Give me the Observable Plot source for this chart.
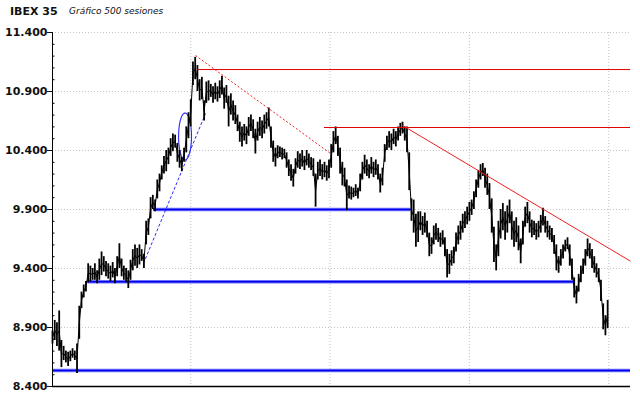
<!DOCTYPE html>
<html>
<head>
<meta charset="utf-8">
<script src="https://cdn.jsdelivr.net/npm/d3@7"></script>
<script src="https://cdn.jsdelivr.net/npm/@observablehq/plot@0.6"></script>
<style>
  html, body { margin: 0; padding: 0; background: #fff; }
  #title { position: relative; height: 20px; width: 640px; }
  #title .main { position: absolute; left: 10px; top: 6px; font: bold 11px/11px "DejaVu Sans", sans-serif; color: #111; }
  #title .sub { position: absolute; left: 69px; top: 7px; font: italic 9px/9px "DejaVu Sans", sans-serif; color: #111; }
</style>
</head>
<body>
<div id="title"><span class="main">IBEX 35</span><span class="sub">Gráfico 500 sesiones</span></div>
<div id="chart"></div>
<script>
// ---- data (session lows / highs, every 2nd session from 1 to 499) ----
const lows = [8760,8790,8740,8700,8560,8620,8600,8570,8610,8640,8620,8510,8800,9060,9150,9200,9280,9290,9300,9300,
  9270,9300,9340,9370,9330,9310,9290,9320,9270,9330,9400,9330,9300,9280,9230,9300,9380,9420,9400,9430,
  9460,9400,9600,9680,9820,9900,9880,9990,10050,10150,10200,10220,10280,10350,10390,10420,10300,10250,10220,10300,
  10380,10500,10600,10950,11000,10900,10820,10830,10650,10800,10820,10850,10800,10830,10810,10840,10870,10750,10800,10600,
  10700,10650,10620,10560,10470,10430,10480,10450,10520,10560,10500,10370,10480,10520,10500,10540,10580,10600,10420,10300,
  10260,10330,10340,10320,10330,10250,10180,10140,10090,10200,10250,10240,10260,10230,10270,10250,10230,10180,9920,10150,
  10180,10150,10170,10140,10160,10250,10380,10450,10350,10200,10100,10090,9890,9990,9980,10000,10010,9990,10050,10150,
  10200,10180,10160,10200,10170,10190,10150,10040,10100,10300,10400,10420,10400,10450,10430,10480,10520,10540,10480,10380,
  10060,9800,9700,9580,9620,9720,9680,9700,9660,9500,9520,9600,9640,9620,9580,9600,9500,9320,9350,9420,
  9440,9540,9600,9640,9700,9740,9770,9800,9850,9900,10000,10080,10150,10180,10080,10020,9900,9700,9450,9380,
  9500,9650,9720,9640,9700,9780,9640,9580,9620,9550,9440,9600,9750,9780,9700,9660,9680,9640,9660,9700,
  9760,9700,9660,9640,9620,9520,9380,9360,9420,9480,9540,9560,9420,9300,9150,9100,9200,9280,9350,9420,
  9500,9480,9400,9360,9320,9280,9120,8880,8830,8890];
const highs = [8870,8960,8940,9040,8790,8740,8700,8690,8700,8720,8700,8760,9080,9200,9260,9290,9440,9420,9400,9440,
  9380,9480,9540,9500,9460,9440,9420,9450,9400,9500,9610,9480,9420,9400,9380,9470,9560,9600,9570,9600,
  9560,9520,9800,9820,10000,10020,9980,10150,10200,10270,10350,10400,10420,10500,10540,10530,10460,10400,10340,10420,
  10600,10720,10830,11150,11190,11120,11000,11020,10820,10980,10990,10960,10940,10970,10940,10990,11030,10930,10950,10860,
  10880,10820,10780,10700,10640,10600,10620,10600,10680,10700,10660,10580,10640,10680,10650,10700,10720,10760,10600,10480,
  10420,10440,10430,10420,10410,10380,10320,10280,10240,10330,10390,10370,10400,10350,10400,10370,10340,10330,10200,10300,
  10320,10280,10300,10270,10320,10450,10560,10600,10520,10420,10300,10250,10150,10100,10090,10080,10110,10080,10200,10300,
  10360,10320,10280,10340,10300,10320,10280,10200,10250,10450,10520,10560,10540,10580,10560,10600,10630,10640,10600,10600,
  10380,9990,9980,9860,9880,9880,9840,9870,9800,9700,9660,9760,9780,9740,9700,9720,9660,9560,9520,9550,
  9580,9700,9760,9800,9860,9880,9920,9960,9980,10050,10150,10230,10280,10290,10250,10200,10120,9990,9750,9600,
  9800,9900,9950,9880,9930,9980,9880,9800,9830,9760,9650,9800,9920,9960,9880,9810,9800,9780,9800,9850,
  9910,9840,9800,9760,9740,9680,9600,9500,9560,9600,9640,9660,9600,9480,9320,9250,9350,9420,9480,9560,
  9650,9610,9560,9500,9440,9400,9300,9100,9000,9130];
const sessionStep = 2;

// y axis ticks
const yTicks = [8400, 8900, 9400, 9900, 10400, 10900, 11400];
const yMinor = [8500,8600,8700,8800,9000,9100,9200,9300,9500,9600,9700,9800,10000,10100,10200,10300,
  10500,10600,10700,10800,11000,11100,11200,11300];
const xGrid = [125, 250, 375, 500];

// annotation levels (session, value)
const blueLevels = [
  {value: 9900, from: 91.6, to: 322.8},
  {value: 9288, from: 32.7, to: 469.3},
  {value: 8536, from: 1, to: 519.5}
];
const redLevels = [
  {value: 11086, from: 131.3, to: 519.5},
  {value: 10595, from: 245, to: 519.5}
];
const redDashed = [{s1: 129.3, v1: 11205, s2: 250.4, v2: 10375}];
const redSolid = [{s1: 315, v1: 10612, s2: 519.5, v2: 9462}];
const blueDashed = [{s1: 82.6, v1: 9442, s2: 138.3, v2: 10714}];
const blueLoop = {cs: 119.9, cv: 10519, rs: 5.8, rv: 199};

// ---- build ----
const bars = lows.map((lo, i) => ({s: 1 + i * sessionStep, lo, hi: highs[i], mid: (lo + highs[i]) / 2}));
const loopPts = d3.range(0, 65).map(k => {
  const t = k / 64 * 2 * Math.PI;
  return {s: blueLoop.cs + blueLoop.rs * Math.cos(t), v: blueLoop.cv + blueLoop.rv * Math.sin(t)};
});
const fmt = d3.formatLocale({decimal: ",", thousands: ".", grouping: [3], currency: ["", "€"]}).format(",d");

const W = 640, H = 378, mL = 52, mR = 10;
const gridStyle = {stroke: "#c4c4c4", strokeDasharray: "1,2", strokeWidth: 1};

const chart = Plot.plot({
  width: W, height: H,
  marginLeft: mL, marginRight: mR, marginTop: 12, marginBottom: 12,
  x: {domain: [1, 519.5], axis: null},
  y: {domain: [8400, 11400]},
  style: {fontFamily: "DejaVu Sans", background: "#fff"},
  marks: [
    Plot.ruleY(yTicks.slice(1), {...gridStyle}),
    Plot.ruleX(xGrid, {...gridStyle}),
    // blue support levels
    Plot.ruleY(blueLevels, {y: "value", x1: "from", x2: "to", stroke: "#7070ff", strokeWidth: 3.4}),
    Plot.ruleY(blueLevels, {y: "value", x1: "from", x2: "to", stroke: "#0000e8", strokeWidth: 1.4}),
    // blue dashed trend + loop
    Plot.link(blueDashed, {x1: "s1", y1: "v1", x2: "s2", y2: "v2", stroke: "#2a2aff", strokeWidth: 1, strokeDasharray: "3,2"}),
    Plot.line(loopPts, {x: "s", y: "v", stroke: "#2a2aff", strokeWidth: 1.1}),
    // price bars
    Plot.ruleX(bars, {x: "s", y1: "lo", y2: "hi", stroke: "#000", strokeWidth: 1.8}),
    Plot.line(bars, {x: "s", y: "mid", stroke: "#000", strokeWidth: 1}),
    // red lines
    Plot.ruleY(redLevels, {y: "value", x1: "from", x2: "to", stroke: "#e00000", strokeWidth: 1}),
    Plot.link(redDashed, {x1: "s1", y1: "v1", x2: "s2", y2: "v2", stroke: "#f02020", strokeWidth: 1, strokeDasharray: "2,2"}),
    Plot.link(redSolid, {x1: "s1", y1: "v1", x2: "s2", y2: "v2", stroke: "#f02020", strokeWidth: 1}),
    // axes
    Plot.tickY(yMinor, {y: d => d, stroke: "#000", insetRight: W - mL - mR - 2.5}),
    Plot.axisY(yTicks, {tickSize: 5, tickPadding: 0, tickFormat: fmt, fontSize: 11, fontWeight: "bold", color: "#111"}),
    Plot.ruleX([1], {stroke: "#000", strokeWidth: 1}),
    Plot.ruleY([8400], {stroke: "#000", strokeWidth: 1.5})
  ]
});
document.getElementById("chart").appendChild(chart);
</script>
</body>
</html>
